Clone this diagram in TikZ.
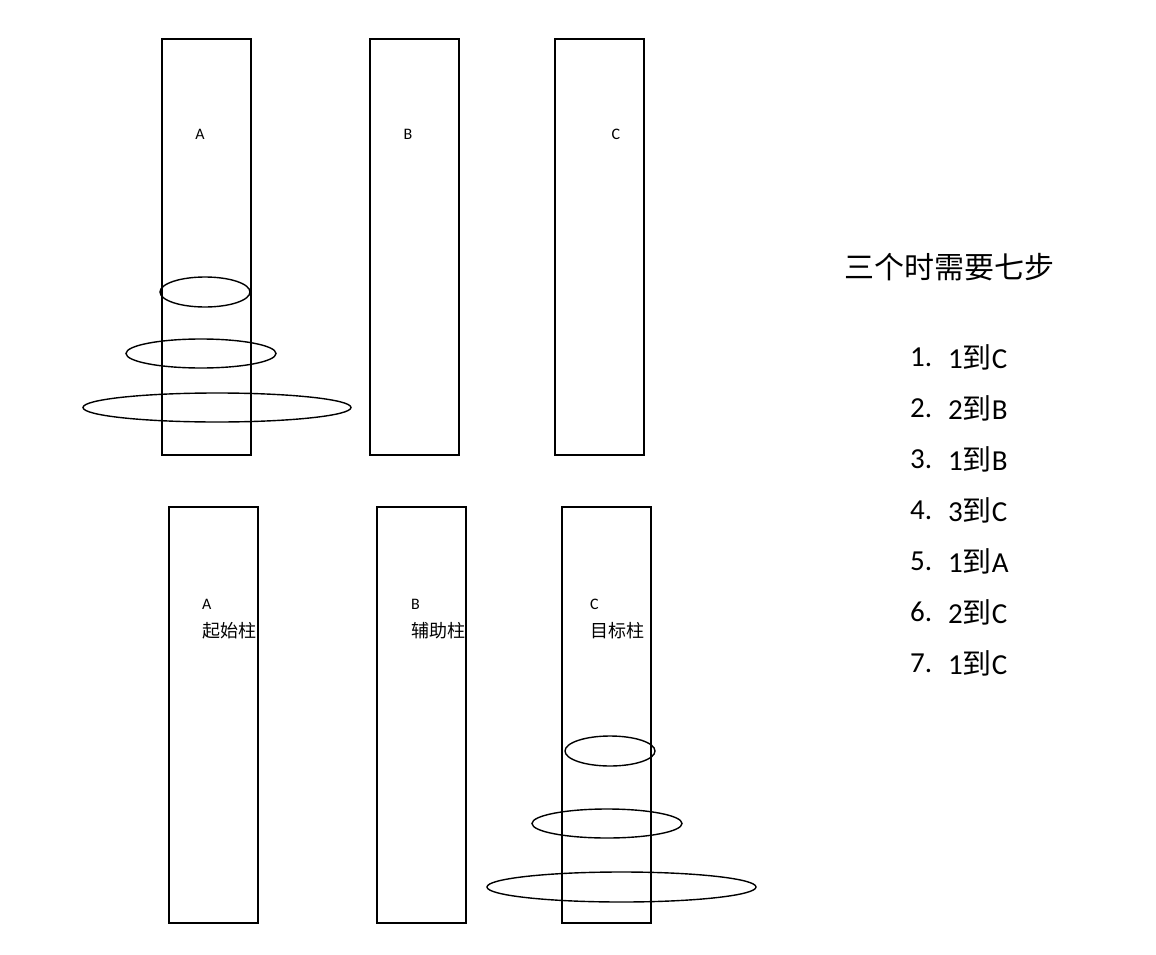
\documentclass[tikz,border=0pt]{standalone}
\usepackage{fontspec}
\setmainfont{Carlito}
\newfontfamily\cjk{Noto Sans CJK SC}
\usetikzlibrary{shapes.geometric}
\begin{document}
\begin{tikzpicture}[x=1pt,y=-1pt,
  peg/.style={draw, line width=1.4pt, minimum width=89pt, minimum height=416pt, inner sep=0pt},
  disk/.style={draw, ellipse, line width=1.4pt, inner sep=0pt},
  lbl/.style={inner sep=0pt, font=\fontsize{16}{18}\selectfont},
  cjklbl/.style={inner sep=0pt, anchor=west, font=\cjk\fontsize{18}{20}\selectfont},
  title/.style={inner sep=0pt, anchor=west, font=\cjk\fontsize{30}{33}\selectfont},
  num/.style={inner sep=0pt, anchor=west, font=\fontsize{29}{32}\selectfont},
  steptext/.style={inner sep=0pt, anchor=west, font=\fontsize{29}{32}\selectfont}]
\useasboundingbox (0,0) rectangle (1156,955);
% top pegs
\node[peg] (tA) at (206.5,247) {};
\node[peg] (tB) at (414.5,247) {};
\node[peg] (tC) at (599.5,247) {};
\node[lbl] (ltA) at (200,134) {A};
\node[lbl] (ltB) at (408,134) {B};
\node[lbl] (ltC) at (616,134) {C};
% top disks
\node[disk, minimum width=90pt, minimum height=30pt] (td1) at (205,292) {};
\node[disk, minimum width=150pt, minimum height=29pt] (td2) at (201,353.5) {};
\node[disk, minimum width=268pt, minimum height=29pt] (td3) at (217,407.5) {};
% bottom pegs
\node[peg] (bA) at (213.5,715) {};
\node[peg] (bB) at (421.5,715) {};
\node[peg] (bC) at (606.5,715) {};
\node[lbl, anchor=west] (lbA) at (202,604) {A};
\node[lbl, anchor=west] (lbB) at (411,604) {B};
\node[lbl, anchor=west] (lbC) at (590,604) {C};
\node[cjklbl] (nbA) at (202,631) {起始柱};
\node[cjklbl] (nbB) at (411,631) {辅助柱};
\node[cjklbl] (nbC) at (590,631) {目标柱};
% bottom disks
\node[disk, minimum width=90pt, minimum height=30pt] (bd1) at (610,751) {};
\node[disk, minimum width=150pt, minimum height=29pt] (bd2) at (607,823.5) {};
\node[disk, minimum width=269pt, minimum height=30pt] (bd3) at (621.5,887) {};
% right text
\node[title] (ttl) at (844,267) {三个时需要七步};
\foreach \i/\t/\y in {1/{1{\cjk 到}C}/357, 2/{2{\cjk 到}B}/408, 3/{1{\cjk 到}B}/459, 4/{3{\cjk 到}C}/510, 5/{1{\cjk 到}A}/561, 6/{2{\cjk 到}C}/612, 7/{1{\cjk 到}C}/663}{
  \node[num] (n\i) at (910,\y) {\i.};
  \node[steptext] (s\i) at (948,\y) {\t};
}
\end{tikzpicture}
\end{document}
